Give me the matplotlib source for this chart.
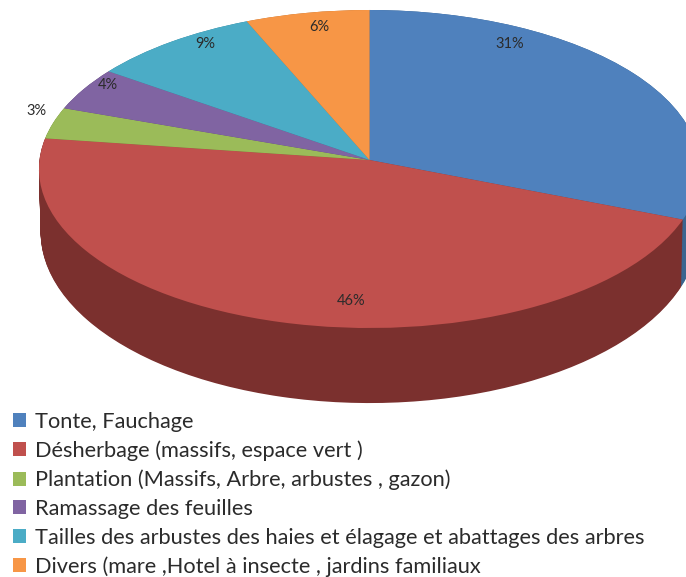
import numpy as np
import matplotlib
matplotlib.use("Agg")
import matplotlib.pyplot as plt
from matplotlib.transforms import Transform, Affine2D

categories = ["Tonte, Fauchage", "Désherbage (massifs, espace vert )",
              "Plantation (Massifs, Arbre, arbustes , gazon)", "Ramassage des feuilles",
              "Tailles des arbustes des haies et élagage et abattages des arbres",
              "Divers (mare ,Hotel à insecte , jardins familiaux"]
values = [31, 46.2, 3.2, 4.4, 8.8, 6.4]
top_colors = ["#4f81bd", "#c0504d", "#9bbb59", "#8064a2", "#4bacc6", "#f79646"]
side_colors = ["#3b6590", "#7b302e", "#6f8a3c", "#5b4675", "#327f93", "#b86d2e"]
label_px = [(510, 44), (351, 301), (36, 111), (108, 85), (205, 44), (319, 27)]

W, H = 686, 577
CX, CY, RX = 369.5, 160, 330
K, A = 0.0566, 158.5
FONT = "Lato"


class Perspective(Transform):
    """Tilts the unit pie: nearer edge looks larger than the far edge."""
    input_dims = 2
    output_dims = 2

    def transform_non_affine(self, xy):
        xy = np.asarray(xy, dtype=float)
        w = 1 + K * xy[:, 1]
        return np.column_stack((CX + RX * xy[:, 0] / w, CY - A * xy[:, 1] / w))


fig = plt.figure(figsize=(W / 100, H / 100), dpi=100)
ax = fig.add_axes([0, 0, 1, 1])
persp = Perspective()

for t in np.linspace(1, 0, 90):
    layer, _ = ax.pie(values, colors=side_colors, startangle=90, counterclock=False)
    shift = (Affine2D().translate(-CX, -CY).scale(1 - 0.005 * t, 1 + 0.074 * t)
             .translate(CX, CY + 62.6 * t))
    for w in layer:
        w.set_transform(persp + shift + ax.transData)

wedges, _, autotexts = ax.pie(values, colors=top_colors, startangle=90, counterclock=False,
                              autopct="%.0f%%",
                              textprops=dict(family=FONT, fontsize=10.5, color="#2b2b2b"))
for w in wedges:
    w.set_transform(persp + ax.transData)
for txt, pos in zip(autotexts, label_px):
    txt.set_position(pos)

ax.set_xlim(0, W)
ax.set_ylim(H, 0)
ax.set_aspect("auto")
ax.axis("off")

ax.legend(wedges, categories, loc="lower left", bbox_to_anchor=(13 / W, 0), frameon=False,
          borderaxespad=0, borderpad=0, handlelength=0.6, handleheight=0.6, handletextpad=0.42,
          labelspacing=0.40, prop=dict(family=FONT, size=15.65), labelcolor="#2b2b2b")

fig.savefig("out.png", dpi=100)
